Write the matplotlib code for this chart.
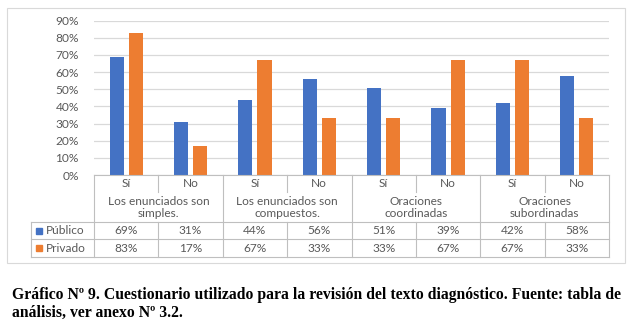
import numpy as np
import matplotlib.pyplot as plt
from matplotlib.lines import Line2D
from matplotlib.patches import Rectangle
from matplotlib.transforms import blended_transform_factory

grupos = ["Los enunciados son\nsimples.", "Los enunciados son\ncompuestos.",
          "Oraciones\ncoordinadas", "Oraciones\nsubordinadas"]
respuestas = ["Sí", "No", "Sí", "No", "Sí", "No", "Sí", "No"]
publico = [69, 31, 44, 56, 51, 39, 42, 58]
privado = [83, 17, 67, 33, 33, 67, 67, 33]
series = ["Público", "Privado"]
azul = "#4472C4"
naranja = "#ED7D31"
gris_txt = "#595959"
gris_lin = "#BFBFBF"
fuente = "Lato"
fs = 8.6

W, H = 633, 327
fig = plt.figure(figsize=(W / 100, H / 100), dpi=100)

def fx(x):
    return x / W

def fy(y):
    return 1 - y / H

# marco exterior
fig.add_artist(Rectangle((fx(7), fy(263)), fx(625) - fx(7), fy(8) - fy(263),
                         transform=fig.transFigure, fill=False, ec="#D9D9D9", lw=0.8))

ax = fig.add_axes([fx(94), fy(175), fx(609) - fx(94), fy(20.7) - fy(175)])
x = np.arange(len(publico)) + 0.5
ax.bar(x - 0.148, np.array(publico) / 100, width=0.22, color=azul, zorder=3)
ax.bar(x + 0.148, np.array(privado) / 100, width=0.22, color=naranja, zorder=3)
ax.set_xlim(0, len(publico))
ax.set_ylim(0, 0.9)
yt = np.arange(0, 0.91, 0.1)
ax.set_yticks(yt)
ax.set_yticklabels([f"{int(round(v * 100))}%" for v in yt], color=gris_txt,
                   fontsize=fs, family=fuente)
ax.tick_params(axis="y", length=0, pad=11)
ax.set_xticks([])
ax.grid(axis="y", color="#D9D9D9", lw=0.9, zorder=0)
for s in ax.spines.values():
    s.set_visible(False)

tr = blended_transform_factory(ax.transData, fig.transFigure)

def linea(xs, ys, t=fig.transFigure):
    fig.add_artist(Line2D(xs, ys, transform=t, color=gris_lin, lw=0.8))

# lineas de la tabla
linea([0, 8], [fy(175), fy(175)], tr)
for yy in [222, 239, 257]:
    linea([fx(31), fx(609)], [fy(yy), fy(yy)])
linea([fx(31), fx(31)], [fy(222), fy(257)])
for g in range(5):
    linea([2 * g, 2 * g], [fy(175), fy(257)], tr)
for g in range(len(grupos)):
    linea([2 * g + 1, 2 * g + 1], [fy(175), fy(192)], tr)
    linea([2 * g + 1, 2 * g + 1], [fy(222), fy(257)], tr)

kw = dict(transform=tr, ha="center", va="center", color=gris_txt,
          fontsize=fs, family=fuente)
for i, r in enumerate(respuestas):
    fig.text(x[i], fy(183.5), r, **kw)
    fig.text(x[i], fy(230.5), f"{publico[i]}%", **kw)
    fig.text(x[i], fy(248), f"{privado[i]}%", **kw)
for g, nombre in enumerate(grupos):
    fig.text(2 * g + 1, fy(207.5), nombre, linespacing=1.2, **kw)

# leyenda
for nombre, col, yy in zip(series, [azul, naranja], [230.5, 248]):
    fig.add_artist(Rectangle((fx(36), fy(yy + 3)), fx(6), fy(0) - fy(6),
                             transform=fig.transFigure, color=col))
    fig.text(fx(46), fy(yy), nombre, ha="left", va="center", color=gris_txt,
             fontsize=fs, family=fuente)

# pie de figura
fig.text(fx(12), fy(295), "Gráfico Nº 9. Cuestionario utilizado para la revisión del texto "
         "diagnóstico. Fuente: tabla de", ha="left", va="center", fontsize=11.3,
         family="Liberation Serif", weight="bold")
fig.text(fx(12), fy(313), "análisis, ver anexo Nº 3.2.", ha="left", va="center",
         fontsize=11.3, family="Liberation Serif", weight="bold")

fig.savefig("out.png", dpi=100)
